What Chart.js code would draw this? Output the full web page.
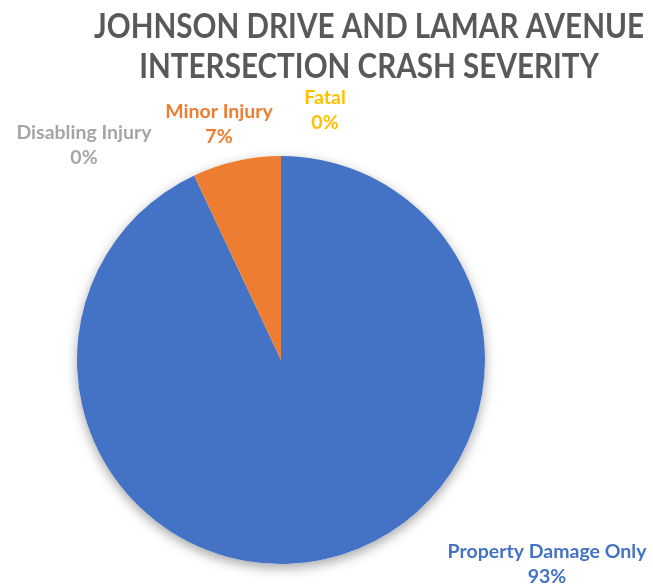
<!DOCTYPE html>
<html>
<head>
<meta charset="utf-8">
<title>Crash Severity</title>
<script src="https://cdn.jsdelivr.net/npm/chart.js@4.4.1/dist/chart.umd.min.js"></script>
<style>
  html, body { margin: 0; padding: 0; background: #ffffff; }
  #wrap { width: 653px; height: 585px; }
</style>
</head>
<body>
<div id="wrap"><canvas id="severityChart" width="653" height="585"></canvas></div>
<script>
// Crash severity shares, Johnson Dr / Lamar Ave intersection
const severityLabels = ['Property Damage Only', 'Minor Injury', 'Disabling Injury', 'Fatal'];
const severityPercent = [93, 7, 0, 0];
const titleLines = ['JOHNSON DRIVE AND LAMAR AVENUE', 'INTERSECTION CRASH SEVERITY'];

const sliceColors = ['#4472C4', '#ED7D31', '#A5A5A5', '#FFC000'];
const FONT = "Lato, 'Open Sans', sans-serif";

// Label block offsets from the pie centre (px), Excel "best fit" style
const labelOffsets = [
  { dx: 266, dy: 204 },
  { dx: -62, dy: -236 },
  { dx: -197, dy: -215 },
  { dx: 44, dy: -250 }
];

// Soft drop shadow under the whole pie
const pieShadow = {
  id: 'pieShadow',
  beforeDatasetsDraw(chart) {
    const arc = chart.getDatasetMeta(0).data[0];
    if (!arc) return;
    const ctx = chart.ctx;
    ctx.save();
    ctx.shadowColor = 'rgba(0, 0, 0, 0.35)';
    ctx.shadowBlur = 12;
    ctx.shadowOffsetY = 4;
    ctx.fillStyle = '#ffffff';
    ctx.beginPath();
    ctx.arc(arc.x, arc.y, arc.outerRadius, 0, Math.PI * 2);
    ctx.fill();
    ctx.restore();
  }
};

// Title drawn by hand so it can sit off the pie's centre line;
// squeezed a little horizontally to get the narrow Calibri look
const chartTitle = {
  id: 'chartTitle',
  afterDraw(chart) {
    const ctx = chart.ctx;
    ctx.save();
    ctx.fillStyle = '#595959';
    ctx.font = 'bold 34px ' + FONT;
    ctx.textAlign = 'center';
    ctx.textBaseline = 'middle';
    const sx = Math.min(1, 550 / ctx.measureText(titleLines[0]).width);
    ctx.translate(369, 0);
    ctx.scale(sx, 1);
    titleLines.forEach((line, i) => {
      ctx.fillText(line, 0, 27 + i * 40);
    });
    ctx.restore();
  }
};

// Category name + percentage next to each slice
const sliceLabels = {
  id: 'sliceLabels',
  afterDatasetsDraw(chart) {
    const meta = chart.getDatasetMeta(0);
    const ds = chart.data.datasets[0];
    const total = ds.data.reduce((s, v) => s + v, 0);
    const ctx = chart.ctx;
    ctx.save();
    ctx.font = 'bold 19.5px ' + FONT;
    ctx.textAlign = 'center';
    ctx.textBaseline = 'middle';
    meta.data.forEach((arc, i) => {
      const off = labelOffsets[i];
      const cx = arc.x + off.dx;
      const cy = arc.y + off.dy;
      const pct = Math.round(ds.data[i] / total * 100) + '%';
      ctx.fillStyle = sliceColors[i];
      ctx.fillText(chart.data.labels[i], cx, cy - 12.5);
      ctx.fillText(pct, cx, cy + 12.5);
    });
    ctx.restore();
  }
};

new Chart(document.getElementById('severityChart'), {
  type: 'pie',
  data: {
    labels: severityLabels,
    datasets: [{
      data: severityPercent,
      backgroundColor: sliceColors,
      borderWidth: 0,
      hoverOffset: 0
    }]
  },
  options: {
    responsive: false,
    animation: false,
    devicePixelRatio: 1,
    layout: {
      padding: { top: 156, bottom: 21, left: 77, right: 168 }
    },
    plugins: {
      legend: { display: false },
      tooltip: { enabled: false },
      title: { display: false }
    }
  },
  plugins: [pieShadow, sliceLabels, chartTitle]
});
</script>
</body>
</html>
